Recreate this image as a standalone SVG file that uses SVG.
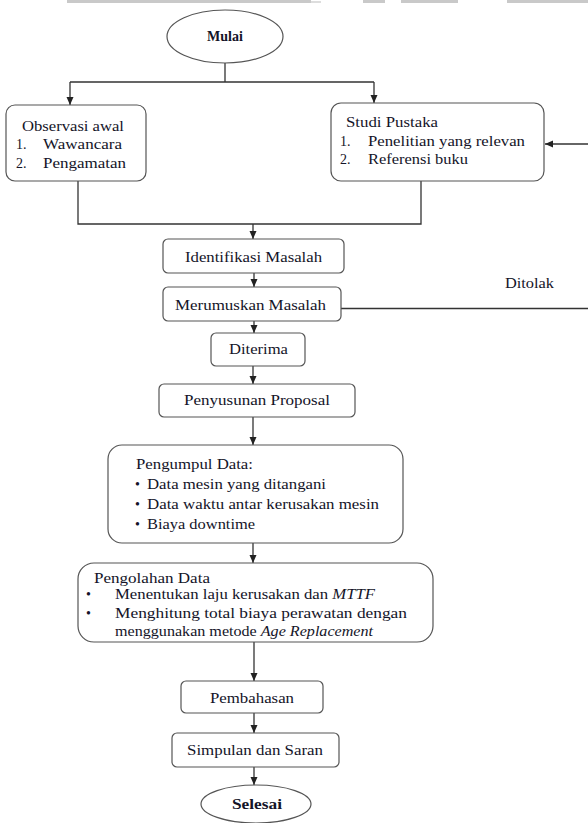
<svg xmlns="http://www.w3.org/2000/svg" width="588" height="823" viewBox="0 0 588 823">
<style>
.box{fill:#fff;stroke:#555;stroke-width:1.2}
.conn{fill:none;stroke:#333;stroke-width:1.3}
text{font-family:"Liberation Serif","Times New Roman",serif;font-size:14px;fill:#141428}
.b{font-weight:bold}
.c{text-anchor:middle}
</style>
<defs>
<marker id="ah" markerUnits="userSpaceOnUse" markerWidth="8" markerHeight="8" refX="8" refY="4" orient="auto">
<path d="M0,0.5 L8,4 L0,7.5 z" fill="#222"/>
</marker>
</defs>
<g id="topbar" fill="#c9c9c9">
<rect x="67" y="0" width="244" height="3"/>
<rect x="311" y="1" width="10" height="2" fill="#ddd"/>
<rect x="363" y="0" width="22" height="3"/>
<rect x="401" y="0" width="57" height="3"/>
<rect x="507" y="0" width="81" height="3"/>
</g>
<g id="connectors">
<path class="conn" d="M225,63 V82 M70,82 H374"/>
<path class="conn" d="M70,82 V105" marker-end="url(#ah)"/>
<path class="conn" d="M374,82 V103" marker-end="url(#ah)"/>
<path class="conn" d="M78,181 V224 H421 V181"/>
<path class="conn" d="M253,224 V239" marker-end="url(#ah)"/>
<path class="conn" d="M254,273 V287" marker-end="url(#ah)"/>
<path class="conn" d="M254,321 V333" marker-end="url(#ah)"/>
<path class="conn" d="M253,366 V384" marker-end="url(#ah)"/>
<path class="conn" d="M253,417 V445" marker-end="url(#ah)"/>
<path class="conn" d="M253,543 V563" marker-end="url(#ah)"/>
<path class="conn" d="M254,642 V681" marker-end="url(#ah)"/>
<path class="conn" d="M254,713 V733" marker-end="url(#ah)"/>
<path class="conn" d="M254,767 V785" marker-end="url(#ah)"/>
<path class="conn" d="M341,308.5 H588"/>
<path class="conn" d="M588,144 H545" marker-end="url(#ah)"/>
<text x="505" y="288" textLength="49" lengthAdjust="spacingAndGlyphs">Ditolak</text>
</g>
<g id="mulai">
<ellipse class="box" cx="225" cy="36.5" rx="58" ry="26.5"/>
<text class="b c" x="225" y="41">Mulai</text>
</g>
<g id="observasi">
<rect class="box" x="6" y="105" width="140" height="76" rx="9"/>
<text x="22" y="131" textLength="102" lengthAdjust="spacingAndGlyphs">Observasi awal</text>
<text x="16" y="149">1.</text>
<text x="43" y="149" textLength="79" lengthAdjust="spacingAndGlyphs">Wawancara</text>
<text x="16" y="168">2.</text>
<text x="43" y="168" textLength="83" lengthAdjust="spacingAndGlyphs">Pengamatan</text>
</g>
<g id="studi">
<rect class="box" x="331" y="103" width="213" height="78" rx="10"/>
<text x="346" y="127" textLength="92" lengthAdjust="spacingAndGlyphs">Studi Pustaka</text>
<text x="340" y="146">1.</text>
<text x="368" y="146" textLength="157" lengthAdjust="spacingAndGlyphs">Penelitian yang relevan</text>
<text x="340" y="164">2.</text>
<text x="368" y="164" textLength="100" lengthAdjust="spacingAndGlyphs">Referensi buku</text>
</g>
<g id="identifikasi">
<rect class="box" x="163" y="239" width="181" height="34" rx="5"/>
<text x="185" y="262" textLength="137" lengthAdjust="spacingAndGlyphs">Identifikasi Masalah</text>
</g>
<g id="merumuskan">
<rect class="box" x="163" y="287" width="178" height="34" rx="5"/>
<text x="175" y="310" textLength="151" lengthAdjust="spacingAndGlyphs">Merumuskan Masalah</text>
</g>
<g id="diterima">
<rect class="box" x="211" y="333" width="94" height="33" rx="5"/>
<text x="229" y="354" textLength="59" lengthAdjust="spacingAndGlyphs">Diterima</text>
</g>
<g id="proposal">
<rect class="box" x="159" y="384" width="196" height="33" rx="5"/>
<text x="184" y="405" textLength="146" lengthAdjust="spacingAndGlyphs">Penyusunan Proposal</text>
</g>
<g id="pengumpul">
<rect class="box" x="108" y="445" width="295" height="98" rx="14"/>
<text x="136" y="469" textLength="117" lengthAdjust="spacingAndGlyphs">Pengumpul Data:</text>
<text x="135" y="489">•</text>
<text x="147" y="489" textLength="179" lengthAdjust="spacingAndGlyphs">Data mesin yang ditangani</text>
<text x="135" y="509">•</text>
<text x="147" y="509" textLength="232" lengthAdjust="spacingAndGlyphs">Data waktu antar kerusakan mesin</text>
<text x="135" y="529">•</text>
<text x="147" y="529" textLength="108" lengthAdjust="spacingAndGlyphs">Biaya downtime</text>
</g>
<g id="pengolahan">
<rect class="box" x="78" y="563" width="355" height="79" rx="16"/>
<text x="94" y="583" textLength="116" lengthAdjust="spacingAndGlyphs">Pengolahan Data</text>
<text x="86" y="599">•</text>
<text x="115" y="599" textLength="260" lengthAdjust="spacingAndGlyphs">Menentukan laju kerusakan dan <tspan font-style="italic">MTTF</tspan></text>
<text x="86" y="618">•</text>
<text x="115" y="618" textLength="292" lengthAdjust="spacingAndGlyphs">Menghitung total biaya perawatan dengan</text>
<text x="115" y="636" textLength="258" lengthAdjust="spacingAndGlyphs">menggunakan metode <tspan font-style="italic">Age Replacement</tspan></text>
</g>
<g id="pembahasan">
<rect class="box" x="181" y="681" width="142" height="32" rx="5"/>
<text x="210" y="703" textLength="84" lengthAdjust="spacingAndGlyphs">Pembahasan</text>
</g>
<g id="simpulan">
<rect class="box" x="172" y="733" width="167" height="34" rx="5"/>
<text x="187" y="755" textLength="136" lengthAdjust="spacingAndGlyphs">Simpulan dan Saran</text>
</g>
<g id="selesai">
<ellipse class="box" cx="256" cy="804" rx="55" ry="19"/>
<text class="b" x="232" y="809" textLength="50" lengthAdjust="spacingAndGlyphs">Selesai</text>
</g>
</svg>
